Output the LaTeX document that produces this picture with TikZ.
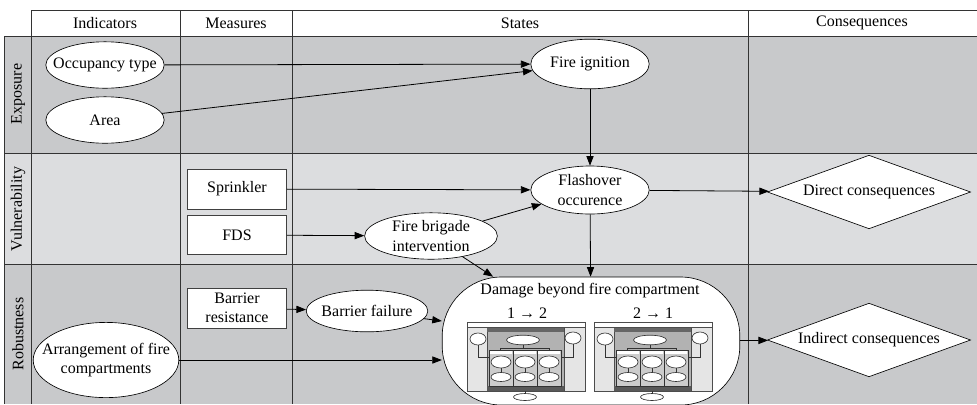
\documentclass[tikz,border=0pt]{standalone}
\usepackage{fontspec}
\setmainfont{Liberation Serif}
\usetikzlibrary{shapes.geometric,arrows.meta}

\definecolor{rowdark}{HTML}{C8C9CB}
\definecolor{rowlight}{HTML}{DCDDDF}
\definecolor{gridline}{HTML}{333333}

\begin{document}
\begin{tikzpicture}[
    x=0.625pt, y=-0.625pt,
    every node/.style={font=\fontsize{10}{12}\selectfont},
    state/.style={ellipse, draw, fill=white, inner xsep=-8pt, inner ysep=-2pt, align=center},
    measure/.style={rectangle, draw=black!75, fill=white, minimum width=62pt, minimum height=25pt, inner sep=0pt, align=center},
    outcome/.style={diamond, draw, fill=white, aspect=2.8, minimum width=127pt, minimum height=46pt, inner sep=0pt},
    link/.style={draw, line width=0.5pt, -{Triangle[length=6pt,width=4.5pt]}},
    grid/.style={draw=gridline, line width=0.6pt},
    rowlabel/.style={rotate=90},
    building/.pic={
        % frame, top strip and inner hall
        \draw[black!70, fill=black!10] (0,0) rectangle (118,69);
        \draw[black!70, fill=white] (0,0) rectangle (118,5);
        \draw[black!70, fill=black!30] (20,6) rectangle (97,69);
        \fill[black!60] (20,6) rectangle (97,10);
        \fill[black!65] (20,64) rectangle (97,69);
        % wires from the side and top detectors
        \draw[black!80] (11,20) -- (11,35) -- (22,35);
        \draw[black!80] (106,20) -- (106,35) -- (94,35);
        \draw[black!80] (56,18) -- (56,26) (33,26) -- (82,26) (33,26) -- (33,28) (82,26) -- (82,28);
        \draw[black!80] (58,69) -- (58,72);
        % three rooms
        \foreach \rx in {22,46,70} {
            \draw[black!80, fill=black!20] (\rx,28) rectangle ++(24,36);
            \fill[white] (\rx+1,29) rectangle ++(22,3);
            \draw[black!80] (\rx+12,40) -- (\rx+12,55);
            \draw[black!80, fill=white] (\rx+12,40) ellipse (10 and 6);
            \draw[black!80, fill=white] (\rx+12,55) ellipse (10 and 4.5);
        }
        % detectors
        \draw[black!80, fill=white] (56,18) ellipse (16.5 and 4.8);
        \draw[black!80, fill=white] (11,17) ellipse (8 and 6);
        \draw[black!80, fill=white] (106,16) ellipse (8 and 6);
        \draw[black!80, fill=white] (58,75) ellipse (11.5 and 3.5);
    }
]

% page area
\path[use as bounding box, fill=white] (0,0) rectangle (977,404);
\clip (0,0) rectangle (977,404);

% row bands
\fill[rowdark] (4,36) rectangle (977,153);
\fill[rowlight] (4,153) rectangle (977,264);
\fill[rowdark] (4,264) rectangle (977,404);

% table lines
\draw[grid] (31,10) -- (977,10);
\foreach \y in {36,153,264}
    \draw[grid] (4,\y) -- (977,\y);
\draw[grid] (4,36) -- (4,404);
\foreach \x in {31,180,292,748}
    \draw[grid] (\x,10) -- (\x,404);

% column and row headings
\node (hindicators) at (105,23) {Indicators};
\node (hmeasures) at (236,23) {Measures};
\node (hstates) at (520,23) {States};
\node (hconsequences) at (862,23) {Consequences};
\node[rowlabel] (lexposure) at (18,94) {Exposure};
\node[rowlabel] (lvulnerability) at (18,209) {Vulnerability};
\node[rowlabel] (lrobustness) at (18,334) {Robustness};

% exposure
\node[state, minimum width=74pt, minimum height=29pt] (occupancy) at (105,65) {Occupancy type};
\node[state, minimum width=74pt, minimum height=29pt] (area) at (105,120) {Area};
\node[state, minimum width=74pt, minimum height=31pt] (ignition) at (590,64) {Fire ignition};

% vulnerability
\node[measure] (sprinkler) at (237,189) {Sprinkler};
\node[measure, minimum height=24pt] (fds) at (237,235) {FDS};
\node[state, minimum width=83pt, minimum height=29pt] (brigade) at (431,236) {Fire brigade\\intervention};
\node[state, minimum width=74pt, minimum height=30pt] (flashover) at (590,190) {Flashover\\occurence};
\node[outcome] (direct) at (869,192) {Direct consequences};

% robustness
\node[measure] (resistance) at (237,308) {Barrier\\resistance};
\node[state, minimum width=76pt, minimum height=26pt] (failure) at (367,311) {Barrier failure};
\node[state, minimum width=91pt, minimum height=47pt] (arrangement) at (106,360) {Arrangement of fire\\compartments};
\node[draw, fill=white, rounded corners=37pt, minimum width=186pt, minimum height=80pt] (damage) at (591,341) {};
\node (damagetitle) at (590,291) {Damage beyond fire compartment};
\node (dir12) at (527,313) {1 → 2};
\node (dir21) at (653,313) {2 → 1};
\pic at (467,322) {building};
\pic at (594,322) {building};
\node[outcome] (indirect) at (869,340) {Indirect consequences};

% connectors
\draw[link] (occupancy) -- (ignition);
\draw[link] (area) -- (ignition);
\draw[link] (ignition) -- (flashover);
\draw[link] (sprinkler) -- (flashover);
\draw[link] (fds) -- (brigade);
\draw[link] (brigade) -- (flashover);
\draw[link] (flashover) -- (direct);
\draw[link] (flashover) -- (damage);
\draw[link] (brigade) -- (damage);
\draw[link] (resistance) -- (failure);
\draw[link] (failure) -- (damage);
\draw[link] (arrangement.east) -- (arrangement.east -| damage.west);
\draw[link] (damage) -- (indirect);

\end{tikzpicture}
\end{document}
